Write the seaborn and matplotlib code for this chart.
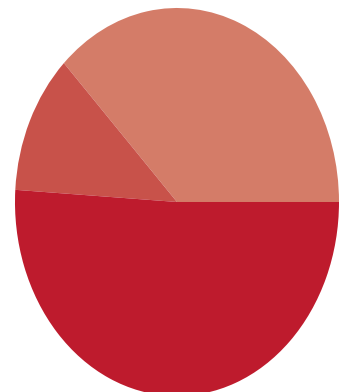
import matplotlib
matplotlib.use("Agg")
import matplotlib.pyplot as plt
import seaborn as sns

# slice shares (counter-clockwise from 3 o'clock)
labels = ["A", "B", "C"]
shares = [37.3, 11.7, 51.0]
colors = ["#D47C68", "#C8524A", "#BE1B2D"]

sns.set_theme(style="white")

fig = plt.figure(figsize=(3.39, 3.92), dpi=100)
ax = fig.add_axes([0.0442, -0.0102, 0.9558, 0.9898])
ax.pie(shares, colors=colors, startangle=0, counterclock=True,
       wedgeprops={"linewidth": 0})
ax.set_aspect("auto")
ax.set_xlim(-1, 1)
ax.set_ylim(-1, 1)
ax.axis("off")

fig.savefig("out.png", dpi=100)
